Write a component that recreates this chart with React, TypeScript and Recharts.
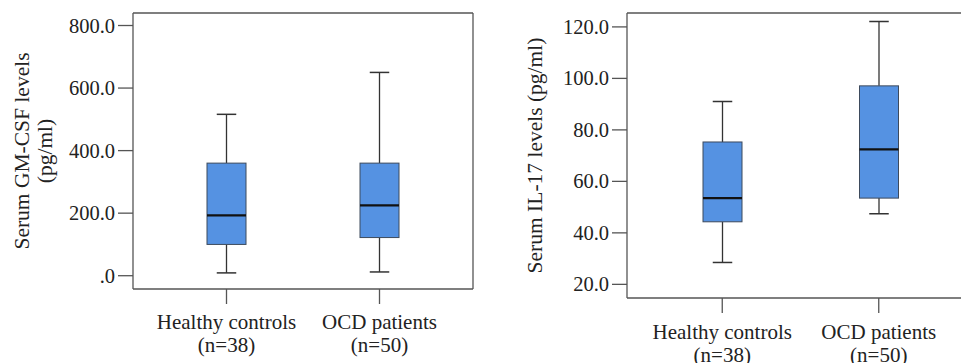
import React from 'react'
import { ComposedChart, Bar, XAxis, YAxis, CartesianGrid } from 'recharts'

// groups + sample sizes (shared by both panels)
const categories = ['Healthy controls', 'OCD patients']
const sampleSizes = ['(n=38)', '(n=50)']

// GM-CSF (pg/ml) box statistics
const gmcsfMin = [9, 12]
const gmcsfQ1 = [100, 122]
const gmcsfMedian = [193, 225]
const gmcsfQ3 = [360, 360]
const gmcsfMax = [516, 650]
const gmcsfTicks = [0, 200, 400, 600, 800]

// IL-17 (pg/ml) box statistics
const il17Min = [28.5, 47.4]
const il17Q1 = [44.3, 53.5]
const il17Median = [53.5, 72.4]
const il17Q3 = [75.3, 97.1]
const il17Max = [91, 122.1]
const il17Ticks = [20, 40, 60, 80, 100, 120]

const FONT = '"Liberation Serif", "Times New Roman", serif'
const FRAME = '#555'
const TEXT = '#222'
const BOX_FILL = '#5592e2'

function buildRows(min: number[], q1: number[], med: number[], q3: number[], max: number[]) {
  return categories.map((name, i) => ({
    name,
    n: sampleSizes[i],
    range: [min[i], max[i]],
    min: min[i],
    q1: q1[i],
    median: med[i],
    q3: q3[i],
    max: max[i],
  }))
}

const gmcsfData = buildRows(gmcsfMin, gmcsfQ1, gmcsfMedian, gmcsfQ3, gmcsfMax)
const il17Data = buildRows(il17Min, il17Q1, il17Median, il17Q3, il17Max)

// Bar spans min..max; the box parts are placed inside that span
function BoxShape(props: any) {
  const { x, y, width, height, payload } = props
  if (!payload) return null
  const top = Math.min(y, y + height)
  const bottom = Math.max(y, y + height)
  const span = payload.max - payload.min
  const py = (v: number) => bottom - ((v - payload.min) / span) * (bottom - top)
  const cx = x + width / 2
  const cap = width / 4
  return (
    <g>
      <line x1={cx} x2={cx} y1={py(payload.max)} y2={py(payload.q3)} stroke="#333" strokeWidth={1.3} />
      <line x1={cx} x2={cx} y1={py(payload.q1)} y2={py(payload.min)} stroke="#333" strokeWidth={1.3} />
      <line x1={cx - cap} x2={cx + cap} y1={py(payload.max)} y2={py(payload.max)} stroke="#333" strokeWidth={1.5} />
      <line x1={cx - cap} x2={cx + cap} y1={py(payload.min)} y2={py(payload.min)} stroke="#333" strokeWidth={1.5} />
      <rect
        x={x}
        y={py(payload.q3)}
        width={width}
        height={py(payload.q1) - py(payload.q3)}
        fill={BOX_FILL}
        stroke="#3d4a5c"
        strokeWidth={1}
      />
      <line x1={x} x2={x + width} y1={py(payload.median)} y2={py(payload.median)} stroke="#111" strokeWidth={2.2} />
    </g>
  )
}

function makeGroupTick(dy1: number) {
  return function GroupTick(props: any) {
    const { x, y, payload, index } = props
    return (
      <text x={x} y={y} textAnchor="middle" fill={TEXT} style={{ fontFamily: FONT, fontSize: 21 }}>
        <tspan x={x} dy={dy1}>{payload.value}</tspan>
        <tspan x={x} dy={23}>{sampleSizes[index]}</tspan>
      </text>
    )
  }
}
const LeftGroupTick = makeGroupTick(22.5)
const RightGroupTick = makeGroupTick(23.5)

function ValueTick(props: any) {
  const { x, y, payload } = props
  const v = payload.value
  return (
    <text x={x} y={y} textAnchor="end" dominantBaseline="central" fill={TEXT} style={{ fontFamily: FONT, fontSize: 20.5 }}>
      {v === 0 ? '.0' : v.toFixed(1)}
    </text>
  )
}

function Panel(props: {
  data: any[]
  domain: [number, number]
  ticks: number[]
  width: number
  yWidth: number
  margin: any
  groupTick: any
  label: (vb: any) => React.ReactNode
}) {
  const { data, domain, ticks, width, yWidth, margin, groupTick: GroupTick, label } = props
  return (
    <ComposedChart width={width} height={363} data={data} margin={margin}>
      {/* top + right edges of the frame */}
      <CartesianGrid
        stroke={FRAME}
        strokeWidth={1.3}
        horizontalCoordinatesGenerator={({ offset }: any) => [offset.top]}
        verticalCoordinatesGenerator={({ offset }: any) => [offset.left + offset.width]}
      />
      <XAxis
        dataKey="name"
        height={60}
        padding={{ left: 17, right: 17 }}
        axisLine={{ stroke: FRAME, strokeWidth: 1.3 }}
        tickLine={{ stroke: FRAME, strokeWidth: 1.3 }}
        tickSize={15}
        tickMargin={2}
        tick={<GroupTick />}
        interval={0}
      />
      <YAxis
        type="number"
        domain={domain}
        ticks={ticks}
        width={yWidth}
        axisLine={{ stroke: FRAME, strokeWidth: 1.3 }}
        tickLine={{ stroke: FRAME, strokeWidth: 1.3 }}
        tickSize={15}
        tickMargin={3}
        tick={<ValueTick />}
        allowDataOverflow
        label={{ content: ({ viewBox }: any) => label(viewBox) }}
      />
      <Bar dataKey="range" barSize={39} shape={<BoxShape />} isAnimationActive={false} />
    </ComposedChart>
  )
}

export default function App() {
  return (
    <div style={{ position: 'absolute', left: 0, top: 0, width: 961, height: 363, overflow: 'hidden', background: '#fff', fontFamily: FONT }}>
      <div style={{ position: 'absolute', left: 0, top: 0 }}>
        <Panel
          data={gmcsfData}
          domain={[-42.5, 840]}
          ticks={gmcsfTicks}
          width={480}
          yWidth={133}
          margin={{ top: 13, right: 7, bottom: 14, left: 0 }}
          groupTick={LeftGroupTick}
          label={(vb: any) => {
            const cy = vb.y + vb.height / 2
            return (
              <g fill={TEXT} style={{ fontFamily: FONT, fontSize: 21.5 }}>
                <text x={22} y={cy} textAnchor="middle" dominantBaseline="central" transform={`rotate(-90, 22, ${cy})`}>
                  Serum GM-CSF levels
                </text>
                <text x={45} y={cy} textAnchor="middle" dominantBaseline="central" transform={`rotate(-90, 45, ${cy})`}>
                  (pg/ml)
                </text>
              </g>
            )
          }}
        />
      </div>
      <div style={{ position: 'absolute', left: 480, top: 0 }}>
        <Panel
          data={il17Data}
          domain={[14.7, 125.4]}
          ticks={il17Ticks}
          width={494}
          yWidth={147}
          margin={{ top: 13, right: 0, bottom: 5, left: 0 }}
          groupTick={RightGroupTick}
          label={(vb: any) => {
            const cy = vb.y + vb.height / 2
            return (
              <text
                x={55}
                y={cy}
                textAnchor="middle"
                dominantBaseline="central"
                fill={TEXT}
                style={{ fontFamily: FONT, fontSize: 21.5 }}
                transform={`rotate(-90, 55, ${cy})`}
              >
                Serum IL-17 levels (pg/ml)
              </text>
            )
          }}
        />
      </div>
    </div>
  )
}
